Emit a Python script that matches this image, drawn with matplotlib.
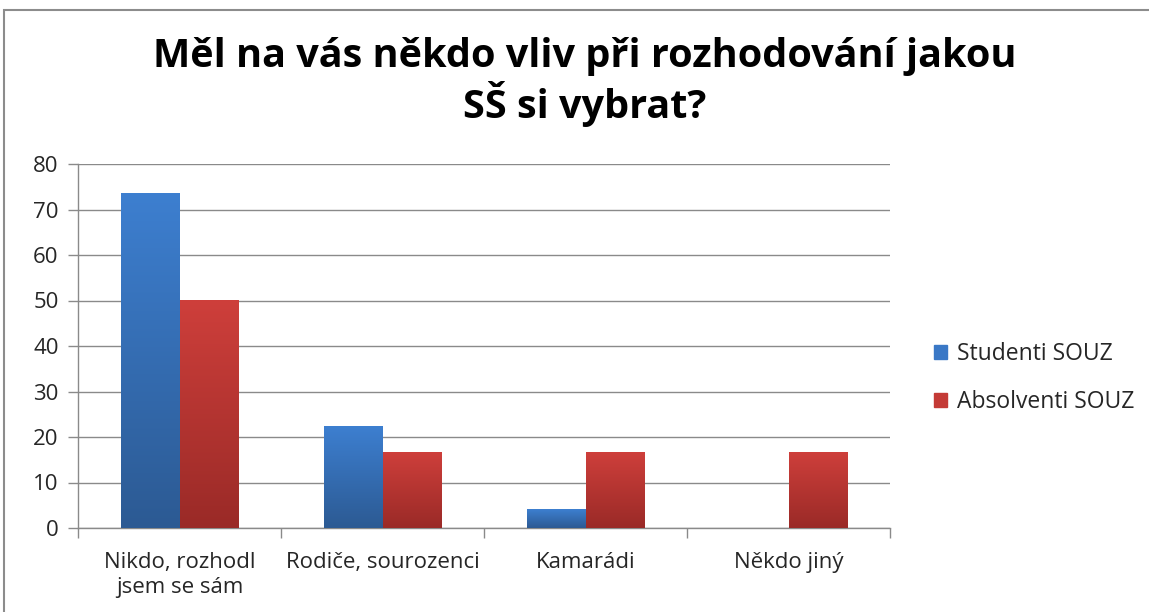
import matplotlib
matplotlib.use("Agg")
import matplotlib.pyplot as plt
import numpy as np
from matplotlib.patches import Rectangle
from matplotlib.colors import LinearSegmentedColormap

categories = ["Nikdo, rozhodl\njsem se sám", "Rodiče, sourozenci", "Kamarádi", "Někdo jiný"]
studenti = [73.5, 22.4, 4.1, 0]
absolventi = [50, 16.7, 16.7, 16.7]
series_names = ["Studenti SOUZ", "Absolventi SOUZ"]
title = "Měl na vás někdo vliv při rozhodování jakou\nSŠ si vybrat?"
yticks = [0, 10, 20, 30, 40, 50, 60, 70, 80]

plt.rcParams['font.family'] = ['Open Sans', 'DejaVu Sans']

fig = plt.figure(figsize=(11.49, 6.12), dpi=100)
ax = fig.add_axes([78/1149, 1-528/612, (890-78)/1149, (528-164)/612])

# frame border
fig.patches.append(Rectangle((4/1149, -0.1), 1.2, 1-10/612+0.1, transform=fig.transFigure,
                             fill=False, edgecolor="#8c8c8c", linewidth=1.5))

x = np.arange(len(categories))
w = 0.286
blue_cmap = LinearSegmentedColormap.from_list("b", ["#2c5a93", "#3d7fd0"])
red_cmap = LinearSegmentedColormap.from_list("r", ["#9a2a27", "#ce3f3b"])

b1 = ax.bar(x - w/2, studenti, w, color="#3a78c6", label=series_names[0], zorder=2)
b2 = ax.bar(x + w/2, absolventi, w, color="#c43a36", label=series_names[1], zorder=2)

grad = np.linspace(0, 1, 256).reshape(-1, 1)
for bars, cmap in ((b1, blue_cmap), (b2, red_cmap)):
    for p in bars:
        h = p.get_height()
        if h <= 0:
            continue
        x0 = p.get_x()
        ax.imshow(grad, cmap=cmap, origin="lower", aspect="auto",
                  extent=(x0, x0 + p.get_width(), 0, h), zorder=3)
        p.set_alpha(0)

ax.set_xlim(-0.5, len(categories) - 0.5)
ax.set_ylim(0, 80)
ax.set_yticks(yticks)
ax.set_yticklabels([str(t) for t in yticks], fontsize=16, color="#262626")
ax.yaxis.grid(True, color="#8a8a8a", linewidth=1.0, zorder=0)
ax.set_axisbelow(True)

ax.set_xticks(x)
ax.set_xticklabels(categories, fontsize=16, color="#262626", linespacing=1.3)
ax.tick_params(axis="x", length=0, pad=17)
ax.set_xticks(np.arange(-0.5, len(categories)), minor=True)
ax.tick_params(axis="x", which="minor", length=7, color="#8a8a8a", width=1.0)
ax.tick_params(axis="y", length=7, color="#8a8a8a", width=1.0, pad=7)

for s in ("top", "right"):
    ax.spines[s].set_visible(False)
for s in ("left", "bottom"):
    ax.spines[s].set_color("#8a8a8a")
    ax.spines[s].set_linewidth(1.0)

fig.text(585/1149, 1-82/612, title, ha="center", va="center", fontsize=28.5,
         fontweight="bold", color="#000000", linespacing=1.15)

# legend
h1 = Rectangle((0, 0), 1, 1, color="#3a78c6")
h2 = Rectangle((0, 0), 1, 1, color="#c43a36")
fig.legend([h1, h2], series_names, loc="center left", bbox_to_anchor=(913/1149, 1-378/612),
           frameon=False, fontsize=16.5, handlelength=0.6, handleheight=0.6,
           handletextpad=0.4, labelspacing=1.05, labelcolor="#262626")

fig.savefig("out.png", dpi=100)
